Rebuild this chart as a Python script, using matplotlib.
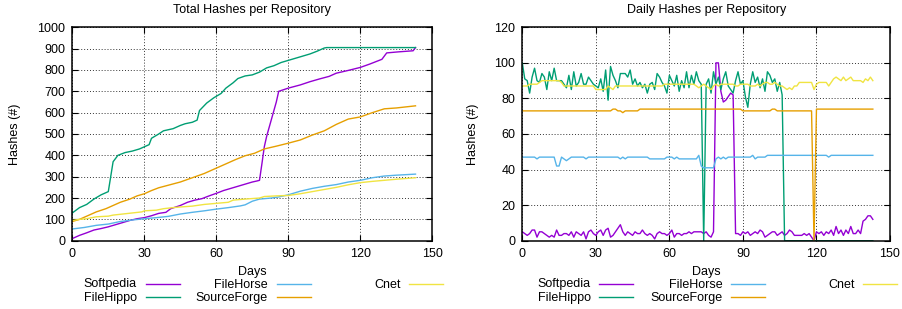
import matplotlib
matplotlib.use("Agg")
import matplotlib.pyplot as plt
from matplotlib.lines import Line2D
import numpy as np

plt.rcParams['font.family'] = ['Liberation Sans', 'DejaVu Sans']
FS = 9

names = ["Softpedia", "FileHippo", "FileHorse", "SourceForge", "Cnet"]
colors = ["#9400d3", "#009e73", "#56b4e9", "#e69f00", "#f0e442"]

# ---------------- Total hashes (cumulative) ----------------
tot_softpedia_days = [0, 3, 6, 9, 12, 15, 18, 21, 24, 27, 30, 33, 36, 39, 41, 45, 48, 51, 54, 57, 60,
                      63, 66, 69, 72, 75, 77, 78, 79, 80, 81, 82, 83, 84, 85, 86, 90, 95, 99, 103,
                      107, 110, 115, 120, 124, 129, 131, 136, 142, 143]
tot_softpedia = [10, 25, 37, 50, 57, 65, 75, 85, 95, 103, 108, 117, 128, 133, 150, 165, 180, 190, 197,
                 210, 222, 235, 245, 255, 265, 275, 280, 283, 360, 440, 490, 530, 570, 610, 650, 700,
                 715, 730, 745, 758, 770, 785, 798, 812, 828, 850, 880, 885, 890, 905]

tot_filehippo_days = [0, 3, 6, 9, 12, 15, 16, 17, 19, 22, 25, 28, 30, 32, 33, 36, 38, 40, 42, 45, 47,
                      50, 52, 53, 56, 59, 62, 64, 67, 69, 72, 75, 78, 81, 84, 87, 90, 93, 96, 99,
                      102, 105, 106, 143]
tot_filehippo = [130, 155, 170, 195, 215, 230, 300, 370, 400, 413, 420, 430, 440, 450, 480, 500, 515,
                 520, 525, 540, 548, 555, 565, 610, 645, 670, 690, 715, 740, 760, 772, 777, 790, 810,
                 820, 835, 845, 855, 865, 875, 888, 903, 905, 905]

tot_filehorse_days = [0, 5, 10, 15, 20, 25, 30, 35, 40, 45, 50, 55, 60, 65, 70, 72, 75, 78, 83, 86, 90,
                      95, 100, 105, 110, 115, 120, 125, 130, 135, 143]
tot_filehorse = [55, 62, 72, 78, 90, 97, 103, 108, 114, 125, 133, 140, 148, 155, 163, 168, 185, 195,
                 200, 205, 215, 232, 245, 255, 263, 275, 283, 295, 303, 307, 312]

tot_sourceforge_days = [0, 3, 6, 10, 14, 17, 20, 24, 27, 30, 33, 36, 40, 45, 50, 55, 60, 65, 68, 72,
                        76, 80, 85, 90, 95, 100, 105, 110, 115, 120, 125, 130, 135, 143]
tot_sourceforge = [90, 100, 115, 135, 150, 165, 180, 195, 210, 220, 235, 248, 260, 275, 295, 315, 340,
                   365, 380, 398, 410, 430, 443, 457, 472, 495, 515, 545, 570, 580, 600, 618, 622, 632]

tot_cnet_days = [0, 3, 6, 10, 15, 17, 21, 25, 29, 30, 35, 38, 42, 45, 50, 55, 60, 65, 67, 72, 78, 80,
                 85, 90, 95, 100, 105, 110, 115, 120, 125, 130, 135, 143]
tot_cnet = [95, 100, 103, 112, 115, 120, 125, 130, 135, 140, 143, 150, 155, 158, 162, 170, 175, 180,
            190, 195, 200, 207, 210, 212, 220, 230, 240, 250, 262, 272, 278, 283, 288, 295]

# ---------------- Daily hashes ----------------
daily_softpedia = [5, 4, 3, 4, 6, 6, 2, 5, 5, 4, 3, 2, 3, 2, 6, 3, 3, 4, 4, 3,
                   5, 2, 5, 4, 3, 5, 1, 5, 6, 4, 3, 5, 6, 3, 6, 7, 2, 3, 5, 7,
                   9, 5, 3, 5, 4, 3, 5, 4, 4, 6, 4, 3, 4, 3, 1, 4, 5, 4, 4, 3,
                   4, 6, 2, 4, 4, 3, 4, 4, 5, 4, 5, 5, 5, 5, 4, 5, 3, 2, 5, 100,
                   100, 84, 78, 79, 81, 83, 82, 4, 4, 3, 5, 4, 5, 3, 4, 5, 4, 6, 5, 2,
                   3, 4, 5, 5, 3, 4, 5, 3, 4, 6, 5, 3, 3, 3, 3, 4, 3, 4, 2, 0,
                   5, 4, 5, 3, 5, 4, 6, 3, 8, 4, 6, 3, 6, 4, 8, 4, 4, 6, 4, 11,
                   12, 14, 14, 12]

daily_filehippo = [100, 91, 90, 83, 92, 97, 90, 89, 94, 92, 85, 95, 90, 97, 90, 90, 90, 88, 86, 93,
                   85, 95, 87, 89, 94, 88, 88, 92, 90, 88, 87, 86, 91, 84, 96, 79, 98, 93, 90, 86,
                   94, 94, 94, 92, 96, 88, 91, 87, 89, 86, 88, 83, 88, 89, 85, 94, 92, 89, 87, 83,
                   93, 90, 87, 93, 84, 90, 86, 95, 86, 93, 88, 95, 90, 88, 0, 88, 91, 83, 95, 88,
                   92, 85, 91, 95, 87, 85, 83, 90, 95, 88, 90, 81, 75, 88, 95, 89, 92, 86, 91, 84,
                   95, 93, 89, 91, 84, 89, 82, 0, 0, 0, 0, 0, 0, 0, 0, 0, 0, 0, 0, 0,
                   0, 0, 0, 0, 0, 0, 0, 0, 0, 0, 0, 0, 0, 0, 0, 0, 0, 0, 0, 0,
                   0, 0, 0, 0]

daily_filehorse = [47, 47, 47, 47, 47, 47, 46, 47, 47, 47, 47, 47, 47, 47, 42, 42, 47, 46, 45, 46,
                   47, 47, 47, 47, 47, 47, 46, 47, 47, 47, 47, 47, 47, 47, 47, 47, 47, 47, 47, 47,
                   46, 47, 46, 47, 47, 47, 47, 47, 47, 47, 47, 47, 46, 46, 46, 46, 46, 46, 46, 47,
                   47, 47, 46, 47, 46, 46, 46, 46, 46, 46, 46, 46, 48, 42, 41, 41, 41, 41, 41, 46,
                   47, 46, 47, 46, 47, 47, 47, 47, 47, 47, 47, 47, 47, 47, 48, 46, 47, 47, 47, 47,
                   48, 48, 48, 48, 48, 48, 48, 48, 48, 48, 48, 48, 48, 48, 48, 48, 48, 48, 48, 48,
                   48, 48, 48, 48, 48, 47, 48, 48, 48, 48, 48, 48, 48, 48, 48, 48, 48, 48, 48, 48,
                   48, 48, 48, 48]

daily_sourceforge = [73, 73, 73, 73, 73, 73, 73, 73, 73, 73, 73, 73, 73, 73, 73, 73, 73, 73, 73, 73,
                     73, 73, 73, 73, 73, 73, 73, 73, 73, 73, 73, 73, 73, 73, 73, 73, 73, 74, 74, 73,
                     73, 72, 73, 73, 73, 73, 73, 73, 74, 74, 74, 74, 74, 74, 74, 74, 74, 74, 74, 74,
                     74, 74, 74, 74, 74, 74, 74, 74, 74, 74, 74, 74, 74, 74, 74, 74, 74, 74, 74, 74,
                     74, 74, 74, 74, 74, 74, 74, 74, 74, 74, 73, 73, 73, 73, 73, 73, 73, 73, 73, 73,
                     73, 73, 74, 74, 73, 73, 73, 73, 73, 73, 73, 73, 73, 73, 73, 73, 73, 73, 73, 0,
                     74, 74, 74, 74, 74, 74, 74, 74, 74, 74, 74, 74, 74, 74, 74, 74, 74, 74, 74, 74,
                     74, 74, 74, 74]

daily_cnet = [87, 87, 87, 88, 88, 88, 88, 89, 90, 90, 90, 90, 90, 90, 90, 90, 89, 87, 87, 87,
              87, 87, 87, 87, 87, 87, 87, 87, 87, 87, 85, 85, 85, 85, 85, 87, 86, 85, 87, 87,
              87, 87, 87, 87, 87, 87, 87, 87, 87, 87, 87, 87, 87, 87, 87, 87, 87, 87, 88, 88,
              88, 88, 88, 88, 88, 88, 88, 88, 88, 88, 88, 87, 86, 87, 88, 87, 86, 85, 87, 88,
              87, 88, 88, 88, 88, 88, 88, 87, 87, 88, 88, 88, 88, 87, 87, 87, 88, 87, 88, 89,
              89, 88, 88, 89, 88, 87, 87, 86, 85, 86, 85, 87, 87, 89, 89, 89, 89, 89, 89, 85,
              88, 89, 89, 89, 89, 87, 89, 91, 92, 91, 90, 92, 90, 91, 92, 90, 90, 90, 90, 89,
              91, 90, 92, 90]

days = np.arange(len(daily_softpedia))

W, H = 903, 309
fig = plt.figure(figsize=(W / 100, H / 100), dpi=100)


def px_axes(l, r, t, b):
    return fig.add_axes([l / W, 1 - b / H, (r - l) / W, (b - t) / H])


ax1 = px_axes(72.3, 432.3, 27.3, 240.7)
ax2 = px_axes(522.3, 890.0, 27.3, 240.7)

totals = [(tot_softpedia_days, tot_softpedia), (tot_filehippo_days, tot_filehippo),
          (tot_filehorse_days, tot_filehorse), (tot_sourceforge_days, tot_sourceforge),
          (tot_cnet_days, tot_cnet)]
for (d, v), c in zip(totals, colors):
    ax1.plot(d, v, color=c, lw=1.0)

dailies = [daily_softpedia, daily_filehippo, daily_filehorse, daily_sourceforge, daily_cnet]
for v, c in zip(dailies, colors):
    ax2.plot(days, v, color=c, lw=1.0)


def style(ax, ymax, ystep):
    ax.set_xlim(0, 150)
    ax.set_xticks(range(0, 151, 30))
    ax.set_ylim(0, ymax)
    ax.set_yticks(range(0, ymax + 1, ystep))
    ax.grid(True, color='#333333', linestyle=(0, (1, 2)), linewidth=0.7)
    ax.set_axisbelow(True)
    ax.tick_params(direction='in', top=True, right=True, length=4, width=0.8,
                   labelsize=FS, pad=5, colors='black')
    for s in ax.spines.values():
        s.set_linewidth(1.1)
        s.set_color('black')


style(ax1, 1000, 100)
style(ax2, 120, 20)


def ftext(x, y, s, **kw):
    fig.text(x / W, 1 - y / H, s, fontsize=FS, **kw)


# titles, axis labels
ftext(252.3, 9.5, "Total Hashes per Repository", ha='center', va='center')
ftext(706.2, 9.5, "Daily Hashes per Repository", ha='center', va='center')
ftext(252.3, 272.5, "Days", ha='center', va='center')
ftext(706.2, 272.5, "Days", ha='center', va='center')
ftext(15.5, 134, "Hashes (#)", ha='center', va='center', rotation=90)
ftext(473.0, 134, "Hashes (#)", ha='center', va='center', rotation=90)

# legends (gnuplot-like: text right-aligned, sample to the right)
rows = [283.5, 296.5]
layout = [(0, 0), (0, 1), (1, 0), (1, 1), (2, 0)]
for base_text, base_line in [((137, 268, 401), (146, 277, 409)), ((591, 723, 855), (599, 731, 863))]:
    for (col, row), name, c in zip(layout, names, colors):
        y = rows[row]
        ftext(base_text[col], y + 1, name, ha='right', va='center')
        x0 = base_line[col]
        fig.add_artist(Line2D([x0 / W, (x0 + 34) / W], [1 - y / H, 1 - y / H],
                              transform=fig.transFigure, color=c, lw=1.0))

fig.savefig("out.png", dpi=100)
